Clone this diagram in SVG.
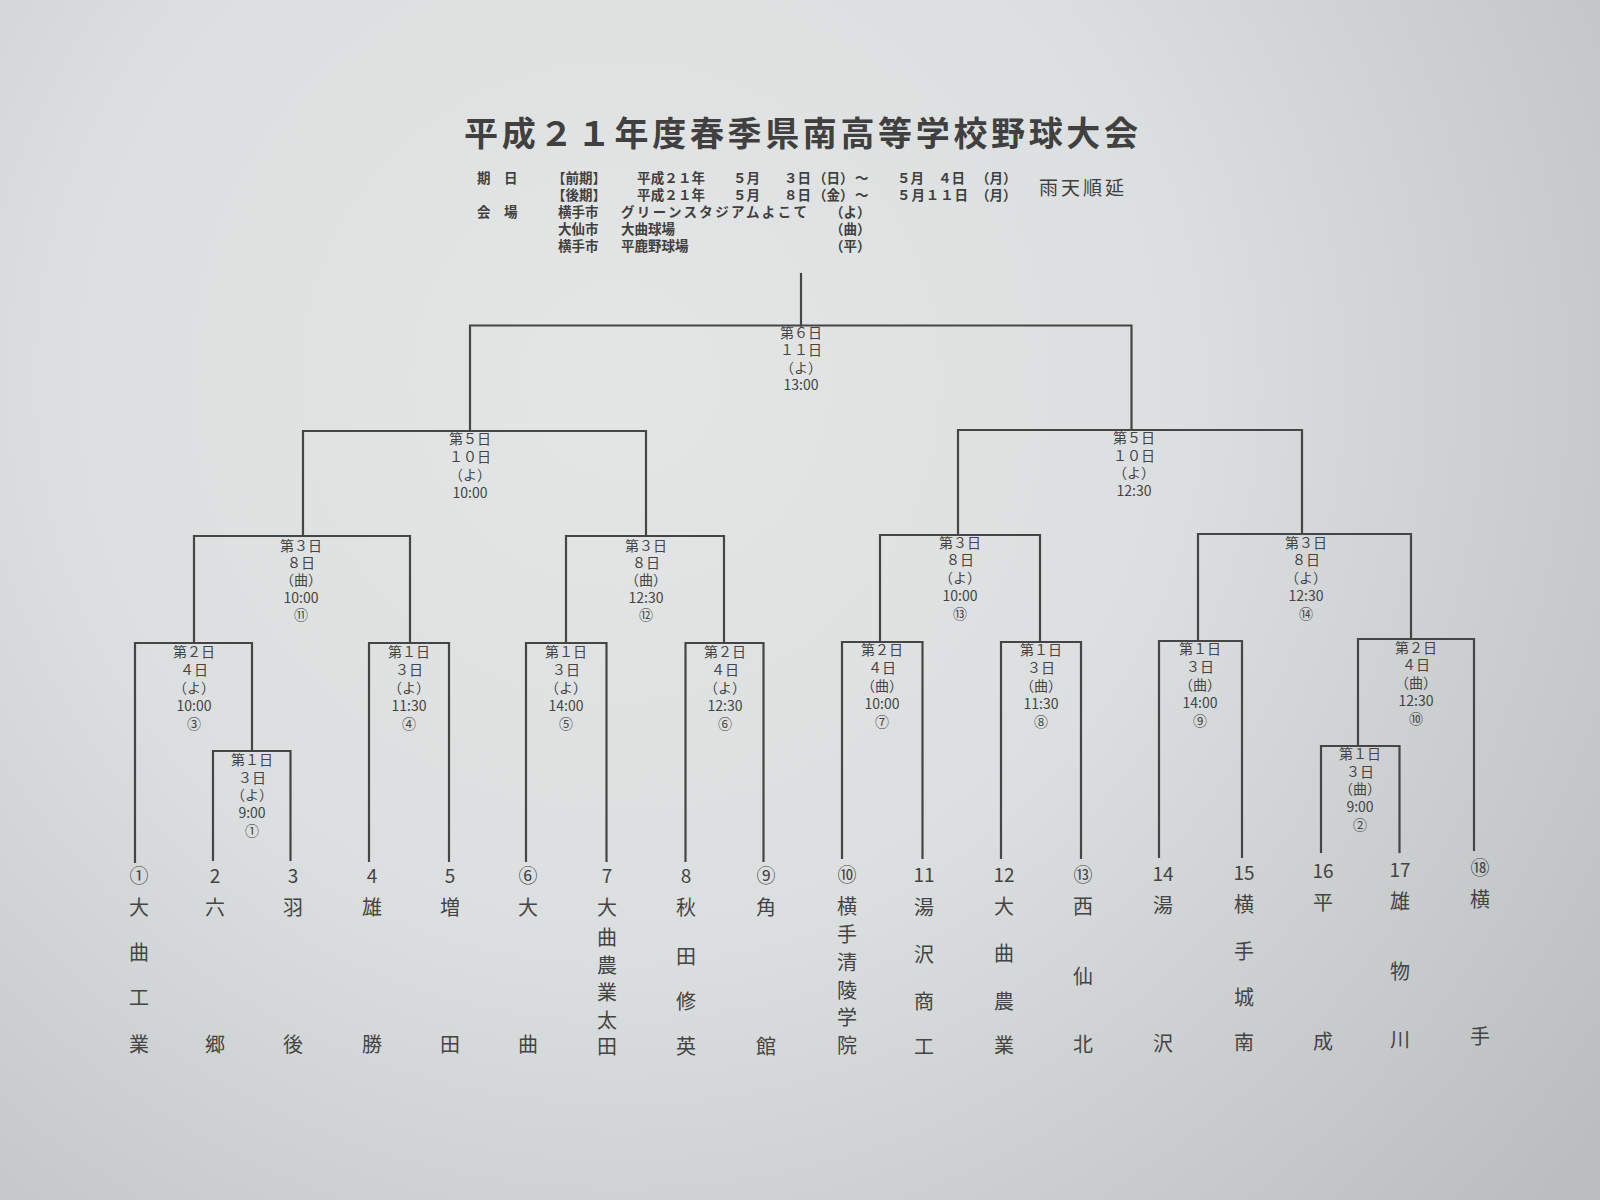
<svg xmlns="http://www.w3.org/2000/svg" width="1600" height="1200" viewBox="0 0 1600 1200">
<defs>
<radialGradient id="paper" cx="620" cy="380" r="1250" gradientUnits="userSpaceOnUse">
<stop offset="0" stop-color="#e4e6e6"/>
<stop offset="0.45" stop-color="#dcdfdf"/>
<stop offset="1" stop-color="#b9bdbe"/>
</radialGradient>
<style>
text{font-family:"Noto Sans CJK JP","Noto Sans",sans-serif;fill:#3d3d3d}
.title{font-size:34px;font-weight:700;fill:#404040}
.info{font-size:13.5px;font-weight:700;fill:#404040}
.rain{font-size:19px;fill:#3f3f3f}
.lab{font-size:14px;text-anchor:middle;fill:#444}
.num{font-size:19px;text-anchor:middle;fill:#444}
.nm{font-size:20px;text-anchor:middle;fill:#444}
.ln{fill:none;stroke:#454545;stroke-width:2.2;stroke-linecap:square}
</style>
</defs>
<rect width="1600" height="1200" fill="url(#paper)"/>

<g id="header">
<text class="title" x="801" y="146" text-anchor="middle" textLength="674" lengthAdjust="spacing">平成２１年度春季県南高等学校野球大会</text>
<text class="info" x="477" y="183">期　日</text>
<text class="info" x="552" y="183">【前期】</text>
<text class="info" x="637" y="183" textLength="68">平成２１年</text>
<text class="info" x="733" y="183">５月</text>
<text class="info" x="784" y="183">３日</text>
<text class="info" x="813" y="183">（日）</text>
<text class="info" x="855" y="183">～</text>
<text class="info" x="897" y="183">５月</text>
<text class="info" x="938" y="183">４日</text>
<text class="info" x="976" y="183">（月）</text>
<text class="info" x="552" y="200">【後期】</text>
<text class="info" x="637" y="200" textLength="68">平成２１年</text>
<text class="info" x="733" y="200">５月</text>
<text class="info" x="784" y="200">８日</text>
<text class="info" x="813" y="200">（金）</text>
<text class="info" x="855" y="200">～</text>
<text class="info" x="897" y="200" textLength="71">５月１１日</text>
<text class="info" x="976" y="200">（月）</text>
<text class="rain" x="1039" y="195" textLength="85">雨天順延</text>
<text class="info" x="477" y="217">会　場</text>
<text class="info" x="558" y="217">横手市</text>
<text class="info" x="621" y="217" textLength="186">グリーンスタジアムよこて</text>
<text class="info" x="830" y="217">（よ）</text>
<text class="info" x="558" y="234">大仙市</text>
<text class="info" x="621" y="234">大曲球場</text>
<text class="info" x="830" y="234">（曲）</text>
<text class="info" x="558" y="251">横手市</text>
<text class="info" x="621" y="251">平鹿野球場</text>
<text class="info" x="830" y="251">（平）</text>
</g>

<g id="connectors">
<path class="ln" d="M801 274 V325.5"/>
<path class="ln" d="M470 431 V325.5 H1131.5 V430"/>
<path class="ln" d="M303 536 V431 H646 V536"/>
<path class="ln" d="M958 534 V430 H1302 V534"/>
<path class="ln" d="M194 643 V536 H410 V643"/>
<path class="ln" d="M566 643 V536 H724 V643"/>
<path class="ln" d="M880 642 V535 H1040 V642"/>
<path class="ln" d="M1198 641 V534 H1411 V639"/>
<path class="ln" d="M135 862 V643 H252 V751"/>
<path class="ln" d="M213 860 V751 H290.5 V860"/>
<path class="ln" d="M369 861 V643 H449 V861"/>
<path class="ln" d="M526 861 V643 H606.5 V861"/>
<path class="ln" d="M685.5 861 V643 H763.5 V861"/>
<path class="ln" d="M842 858 V642 H922.5 V858"/>
<path class="ln" d="M1001 858 V642 H1081 V858"/>
<path class="ln" d="M1159 857 V641 H1242 V857"/>
<path class="ln" d="M1358 746 V639 H1474 V850"/>
<path class="ln" d="M1321 852 V746 H1399.5 V852"/>
</g>

<g id="m-final"><text class="lab"><tspan x="801" y="338">第６日</tspan><tspan x="801" y="355">１１日</tspan><tspan x="801" y="373">（よ）</tspan><tspan x="801" y="390">13:00</tspan></text></g>
<g id="m-sf1"><text class="lab"><tspan x="470" y="444">第５日</tspan><tspan x="470" y="462">１０日</tspan><tspan x="470" y="480">（よ）</tspan><tspan x="470" y="498">10:00</tspan></text></g>
<g id="m-sf2"><text class="lab"><tspan x="1134" y="443">第５日</tspan><tspan x="1134" y="461">１０日</tspan><tspan x="1134" y="478">（よ）</tspan><tspan x="1134" y="496">12:30</tspan></text></g>
<g id="m11"><text class="lab"><tspan x="301" y="551">第３日</tspan><tspan x="301" y="568">８日</tspan><tspan x="301" y="585">（曲）</tspan><tspan x="301" y="603">10:00</tspan><tspan x="301" y="620">⑪</tspan></text></g>
<g id="m12"><text class="lab"><tspan x="646" y="551">第３日</tspan><tspan x="646" y="568">８日</tspan><tspan x="646" y="585">（曲）</tspan><tspan x="646" y="603">12:30</tspan><tspan x="646" y="620">⑫</tspan></text></g>
<g id="m13"><text class="lab"><tspan x="960" y="548">第３日</tspan><tspan x="960" y="565">８日</tspan><tspan x="960" y="583">（よ）</tspan><tspan x="960" y="601">10:00</tspan><tspan x="960" y="619">⑬</tspan></text></g>
<g id="m14"><text class="lab"><tspan x="1306" y="548">第３日</tspan><tspan x="1306" y="565">８日</tspan><tspan x="1306" y="583">（よ）</tspan><tspan x="1306" y="601">12:30</tspan><tspan x="1306" y="619">⑭</tspan></text></g>
<g id="m3"><text class="lab"><tspan x="194" y="657">第２日</tspan><tspan x="194" y="675">４日</tspan><tspan x="194" y="693">（よ）</tspan><tspan x="194" y="711">10:00</tspan><tspan x="194" y="729">③</tspan></text></g>
<g id="m1"><text class="lab"><tspan x="252" y="765">第１日</tspan><tspan x="252" y="783">３日</tspan><tspan x="252" y="800">（よ）</tspan><tspan x="252" y="818">9:00</tspan><tspan x="252" y="836">①</tspan></text></g>
<g id="m4"><text class="lab"><tspan x="409" y="657">第１日</tspan><tspan x="409" y="675">３日</tspan><tspan x="409" y="693">（よ）</tspan><tspan x="409" y="711">11:30</tspan><tspan x="409" y="729">④</tspan></text></g>
<g id="m5"><text class="lab"><tspan x="566" y="657">第１日</tspan><tspan x="566" y="675">３日</tspan><tspan x="566" y="693">（よ）</tspan><tspan x="566" y="711">14:00</tspan><tspan x="566" y="729">⑤</tspan></text></g>
<g id="m6"><text class="lab"><tspan x="725" y="657">第２日</tspan><tspan x="725" y="675">４日</tspan><tspan x="725" y="693">（よ）</tspan><tspan x="725" y="711">12:30</tspan><tspan x="725" y="729">⑥</tspan></text></g>
<g id="m7"><text class="lab"><tspan x="882" y="655">第２日</tspan><tspan x="882" y="673">４日</tspan><tspan x="882" y="691">（曲）</tspan><tspan x="882" y="709">10:00</tspan><tspan x="882" y="727">⑦</tspan></text></g>
<g id="m8"><text class="lab"><tspan x="1041" y="655">第１日</tspan><tspan x="1041" y="673">３日</tspan><tspan x="1041" y="691">（曲）</tspan><tspan x="1041" y="709">11:30</tspan><tspan x="1041" y="727">⑧</tspan></text></g>
<g id="m9"><text class="lab"><tspan x="1200" y="654">第１日</tspan><tspan x="1200" y="672">３日</tspan><tspan x="1200" y="690">（曲）</tspan><tspan x="1200" y="708">14:00</tspan><tspan x="1200" y="726">⑨</tspan></text></g>
<g id="m10"><text class="lab"><tspan x="1416" y="653">第２日</tspan><tspan x="1416" y="670">４日</tspan><tspan x="1416" y="688">（曲）</tspan><tspan x="1416" y="706">12:30</tspan><tspan x="1416" y="724">⑩</tspan></text></g>
<g id="m2"><text class="lab"><tspan x="1360" y="759">第１日</tspan><tspan x="1360" y="777">３日</tspan><tspan x="1360" y="794">（曲）</tspan><tspan x="1360" y="812">9:00</tspan><tspan x="1360" y="830">②</tspan></text></g>

<g id="t1"><text class="num" x="139" y="883">①</text><text class="nm"><tspan x="139" y="915">大</tspan><tspan x="139" y="960">曲</tspan><tspan x="139" y="1005">工</tspan><tspan x="139" y="1052">業</tspan></text></g>
<g id="t2"><text class="num" x="215" y="883">2</text><text class="nm"><tspan x="215" y="915">六</tspan><tspan x="215" y="1052">郷</tspan></text></g>
<g id="t3"><text class="num" x="293" y="883">3</text><text class="nm"><tspan x="293" y="915">羽</tspan><tspan x="293" y="1052">後</tspan></text></g>
<g id="t4"><text class="num" x="372" y="883">4</text><text class="nm"><tspan x="372" y="915">雄</tspan><tspan x="372" y="1052">勝</tspan></text></g>
<g id="t5"><text class="num" x="450" y="883">5</text><text class="nm"><tspan x="450" y="915">増</tspan><tspan x="450" y="1052">田</tspan></text></g>
<g id="t6"><text class="num" x="528" y="883">⑥</text><text class="nm"><tspan x="528" y="915">大</tspan><tspan x="528" y="1052">曲</tspan></text></g>
<g id="t7"><text class="num" x="607" y="883">7</text><text class="nm"><tspan x="607" y="915">大</tspan><tspan x="607" y="945">曲</tspan><tspan x="607" y="973">農</tspan><tspan x="607" y="1000">業</tspan><tspan x="607" y="1028">太</tspan><tspan x="607" y="1054">田</tspan></text></g>
<g id="t8"><text class="num" x="686" y="883">8</text><text class="nm"><tspan x="686" y="915">秋</tspan><tspan x="686" y="964">田</tspan><tspan x="686" y="1009">修</tspan><tspan x="686" y="1054">英</tspan></text></g>
<g id="t9"><text class="num" x="766" y="883">⑨</text><text class="nm"><tspan x="766" y="915">角</tspan><tspan x="766" y="1054">館</tspan></text></g>
<g id="t10"><text class="num" x="847" y="882">⑩</text><text class="nm"><tspan x="847" y="914">横</tspan><tspan x="847" y="942">手</tspan><tspan x="847" y="970">清</tspan><tspan x="847" y="998">陵</tspan><tspan x="847" y="1025">学</tspan><tspan x="847" y="1053">院</tspan></text></g>
<g id="t11"><text class="num" x="924" y="882">11</text><text class="nm"><tspan x="924" y="915">湯</tspan><tspan x="924" y="962">沢</tspan><tspan x="924" y="1009">商</tspan><tspan x="924" y="1054">工</tspan></text></g>
<g id="t12"><text class="num" x="1004" y="882">12</text><text class="nm"><tspan x="1004" y="914">大</tspan><tspan x="1004" y="961">曲</tspan><tspan x="1004" y="1009">農</tspan><tspan x="1004" y="1053">業</tspan></text></g>
<g id="t13"><text class="num" x="1083" y="882">⑬</text><text class="nm"><tspan x="1083" y="914">西</tspan><tspan x="1083" y="984">仙</tspan><tspan x="1083" y="1052">北</tspan></text></g>
<g id="t14"><text class="num" x="1163" y="881">14</text><text class="nm"><tspan x="1163" y="913">湯</tspan><tspan x="1163" y="1051">沢</tspan></text></g>
<g id="t15"><text class="num" x="1244" y="880">15</text><text class="nm"><tspan x="1244" y="912">横</tspan><tspan x="1244" y="959">手</tspan><tspan x="1244" y="1005">城</tspan><tspan x="1244" y="1050">南</tspan></text></g>
<g id="t16"><text class="num" x="1323" y="878">16</text><text class="nm"><tspan x="1323" y="910">平</tspan><tspan x="1323" y="1049">成</tspan></text></g>
<g id="t17"><text class="num" x="1400" y="877">17</text><text class="nm"><tspan x="1400" y="909">雄</tspan><tspan x="1400" y="979">物</tspan><tspan x="1400" y="1047">川</tspan></text></g>
<g id="t18"><text class="num" x="1480" y="875">⑱</text><text class="nm"><tspan x="1480" y="907">横</tspan><tspan x="1480" y="1044">手</tspan></text></g>
</svg>
